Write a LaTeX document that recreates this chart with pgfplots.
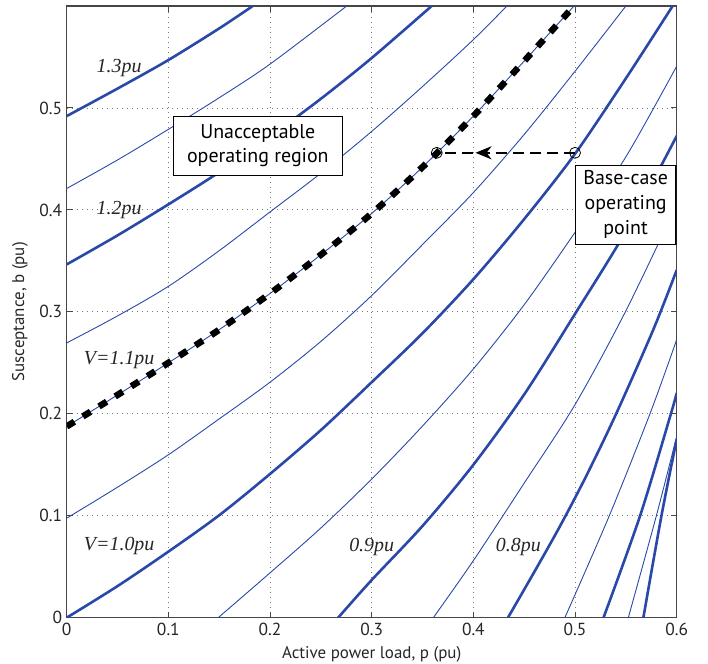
\documentclass[border=0pt]{standalone}
\usepackage{pgfplots}
\pgfplotsset{compat=1.18}
\usepackage{fontspec}
\setmainfont{PT Sans}
\newfontfamily\curvefont{Liberation Serif}
\usetikzlibrary{arrows.meta,decorations.markings}

\definecolor{vblue}{RGB}{42,72,168}
\definecolor{framegray}{RGB}{70,70,70}
\definecolor{gridgray}{RGB}{120,120,120}

\pgfplotsset{
  thickv/.style={vblue, line width=2.6bp, smooth},
  thinv/.style={vblue, line width=0.9bp, smooth},
}
\tikzset{
  vlabel/.style={font=\curvefont\itshape\fontsize{20}{20}\selectfont, inner sep=0pt, text=black!85},
}

\begin{document}
\begin{tikzpicture}
\useasboundingbox (-66.7bp,-46.3bp) rectangle (641.3bp,617.7bp);
\begin{axis}[
  scale only axis, width=610bp, height=611.7bp,
  xmin=0, xmax=0.6, ymin=0, ymax=0.6,
  xtick={0,0.1,0.2,0.3,0.4,0.5,0.6},
  xticklabels={0,0.1,0.2,0.3,0.4,0.5,0.6},
  ytick={0,0.1,0.2,0.3,0.4,0.5},
  yticklabels={0,0.1,0.2,0.3,0.4,0.5},
  /pgf/number format/assume math mode=true,
  ticklabel style={font=\fontsize{17.5}{17.5}\selectfont, text=black!85},
  xticklabel style={yshift=-2bp},
  yticklabel style={xshift=-1bp},
  label style={font=\fontsize{17}{17}\selectfont, text=black!85},
  xlabel={Active power load, p (pu)},
  ylabel={Susceptance, b (pu)},
  xlabel style={at={(axis description cs:0.5,-0.0605)}, anchor=center},
  ylabel style={at={(axis description cs:-0.0766,0.5)}, anchor=center},
  grid=major,
  major grid style={gridgray, line width=0.8bp, dash pattern=on 1bp off 4bp},
  axis line style={framegray, line width=1.2bp},
  tick align=inside, major tick length=6bp,
  tick style={framegray, line width=1bp},
]

% constant-voltage contours, V = 1.3 ... 0.6 pu
\addplot[thickv] coordinates {(0,0.492) (0.05,0.519) (0.1,0.547) (0.15,0.578) (0.183,0.600)};
\addplot[thinv] coordinates {(0,0.421) (0.05,0.449) (0.1,0.479) (0.15,0.510) (0.2,0.543) (0.2754,0.600)};
\addplot[thickv] coordinates {(0,0.3465) (0.05,0.375) (0.1,0.4054) (0.15,0.437) (0.2,0.472) (0.25,0.509) (0.3,0.549) (0.359,0.600)};
\addplot[thinv] coordinates {(0,0.2695) (0.05,0.296) (0.1,0.325) (0.15,0.360) (0.2,0.398) (0.25,0.436) (0.3,0.477) (0.35,0.521) (0.4,0.567) (0.433,0.600)};
\addplot[thinv] coordinates {(0,0.1876) (0.05,0.2185) (0.1,0.250) (0.15,0.2825) (0.2,0.318) (0.25,0.356) (0.3,0.3965) (0.35,0.442) (0.4,0.492) (0.45,0.546) (0.499,0.600)};
\addplot[thinv] coordinates {(0,0.0976) (0.05,0.128) (0.1,0.1598) (0.15,0.195) (0.2,0.231) (0.25,0.271) (0.3,0.316) (0.35,0.366) (0.4,0.417) (0.45,0.474) (0.5,0.536) (0.55,0.600)};
\addplot[thickv] coordinates {(0,0) (0.05,0.031) (0.1,0.0648) (0.15,0.1005) (0.2,0.141) (0.25,0.184) (0.3,0.231) (0.35,0.279) (0.4,0.332) (0.45,0.391) (0.5,0.455) (0.55,0.529) (0.596,0.600)};
\addplot[thinv] coordinates {(0.149,0) (0.2,0.044) (0.25,0.088) (0.3,0.136) (0.35,0.188) (0.4,0.244) (0.45,0.307) (0.5,0.378) (0.55,0.452) (0.6,0.541)};
\addplot[thickv] coordinates {(0.267,0) (0.3,0.037) (0.35,0.090) (0.4,0.150) (0.45,0.219) (0.5,0.298) (0.55,0.379) (0.6,0.4725)};
\addplot[thinv] coordinates {(0.3606,0) (0.4,0.056) (0.45,0.132) (0.5,0.209) (0.55,0.301) (0.6,0.405)};
\addplot[thickv] coordinates {(0.434,0) (0.46,0.045) (0.485,0.0894) (0.51,0.137) (0.54,0.199) (0.577,0.2826) (0.6,0.341)};
\addplot[thinv] coordinates {(0.49,0) (0.5337,0.1) (0.5737,0.2) (0.6,0.2728)};
\addplot[thickv] coordinates {(0.528,0) (0.564,0.1) (0.594,0.199) (0.6,0.2204)};
\addplot[thinv] coordinates {(0.5524,0) (0.580,0.1) (0.6,0.178)};
\addplot[thickv] coordinates {(0.5672,0) (0.585,0.1) (0.6,0.175)};

% upper voltage limit (V = 1.1 pu)
\addplot[black, line width=6.5bp, dash pattern=on 9bp off 10bp, smooth] coordinates {(0,0.1876) (0.05,0.2185) (0.1,0.250) (0.15,0.2825) (0.2,0.318) (0.25,0.356) (0.3,0.3965) (0.35,0.442) (0.4,0.492) (0.45,0.546) (0.499,0.600)};

% load reduction from the base case
\addplot[black, line width=2.5bp, dash pattern=on 11bp off 6bp,
  postaction={decorate},
  decoration={markings, mark=at position 0.72 with {\arrow{Stealth[length=16bp,width=13bp,inset=5bp]}}}]
  coordinates {(0.5,0.456) (0.364,0.456)};
\addplot[only marks, mark=o, mark size=5.5bp, mark options={black, line width=0.8bp}] coordinates {(0.364,0.456) (0.5,0.456)};

\node[draw=black, line width=1.3bp, fill=white, align=center, inner sep=0pt,
  minimum width=169bp, minimum height=59bp, font=\fontsize{20}{24}\selectfont]
  at (axis cs:0.188,0.463) {Unacceptable\\operating region};
\node[draw=black, line width=1.3bp, fill=white, align=center, inner sep=0pt,
  minimum width=100.7bp, minimum height=79.3bp, font=\fontsize{20}{25}\selectfont]
  at (axis cs:0.5498,0.405) {Base-case\\operating\\point};

\node[vlabel] at (axis cs:0.0516,0.5388) {1.3pu};
\node[vlabel] at (axis cs:0.0516,0.3997) {1.2pu};
\node[vlabel] at (axis cs:0.0516,0.2524) {V=1.1pu};
\node[vlabel] at (axis cs:0.0516,0.0706) {V=1.0pu};
\node[vlabel] at (axis cs:0.300,0.0697) {0.9pu};
\node[vlabel] at (axis cs:0.4442,0.069) {0.8pu};
\end{axis}
\end{tikzpicture}
\end{document}
